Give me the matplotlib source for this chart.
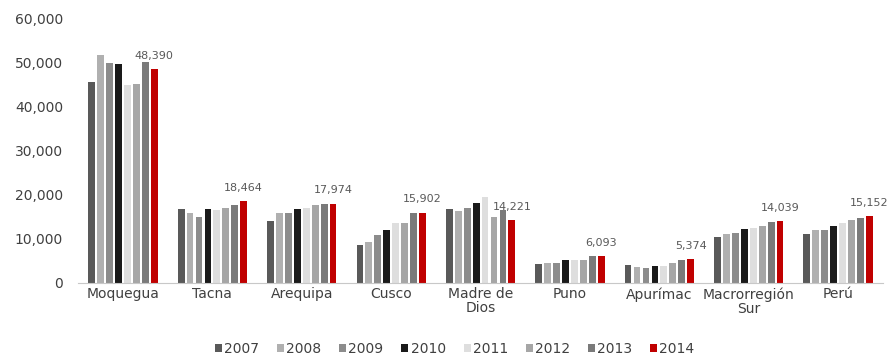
import numpy as np
import matplotlib.pyplot as plt

categories = ["Moquegua", "Tacna", "Arequipa", "Cusco", "Madre de\nDios",
              "Puno", "Apurímac", "Macrorregión\nSur", "Perú"]
years = ["2007", "2008", "2009", "2010", "2011", "2012", "2013", "2014"]

values = {
    "2007": [45500, 16700, 14100, 8600, 16700, 4400, 4100, 10400, 11000],
    "2008": [51700, 15900, 15900, 9300, 16400, 4600, 3700, 11000, 12000],
    "2009": [49800, 15000, 15800, 10800, 17000, 4600, 3400, 11400, 12000],
    "2010": [49500, 16700, 16700, 12000, 18200, 5100, 3800, 12300, 12900],
    "2011": [44800, 16600, 16900, 13600, 19500, 5300, 3800, 12500, 13500],
    "2012": [45100, 17000, 17600, 13600, 15000, 5300, 4600, 12900, 14200],
    "2013": [50100, 17600, 17900, 15800, 16500, 6000, 5100, 13900, 14800],
    "2014": [48390, 18464, 17974, 15902, 14221, 6093, 5374, 14039, 15152],
}
colors = ["#595959", "#b0b0b0", "#8c8c8c", "#1a1a1a",
          "#dedede", "#a6a6a6", "#7a7a7a", "#c00000"]

fig = plt.figure(figsize=(8.9, 3.6), dpi=100)
ax = fig.add_axes([0.088, 0.214, 0.904, 0.736])

x = np.arange(len(categories))
w = 0.1
for i, yr in enumerate(years):
    off = (i - 3.5) * w
    ax.bar(x + off, values[yr], width=w * 0.76, color=colors[i], label=yr)

# data labels on the 2014 bars
for xi, v in zip(x + 3.5 * w, values["2014"]):
    ax.annotate(f"{v:,}", (xi, v), xytext=(0, 6), textcoords="offset points",
                ha="center", va="bottom", fontsize=8, color="#595959")

ax.set_xlim(-0.5, len(categories) - 0.5)
ax.set_ylim(0, 60000)
ax.set_yticks(np.arange(0, 60001, 10000))
ax.set_yticklabels([f"{t:,}" for t in range(0, 60001, 10000)])
ax.set_xticks(x)
ax.set_xticklabels(categories, linespacing=1.0)
ax.tick_params(axis="both", length=0, labelsize=10, colors="#404040")
ax.tick_params(axis="y", pad=11)
ax.tick_params(axis="x", pad=3)
for s in ["top", "right", "left"]:
    ax.spines[s].set_visible(False)
ax.spines["bottom"].set_color("#c8c8c8")

fig.legend(loc="center", bbox_to_anchor=(0.511, 0.031), ncol=8,
           frameon=False, fontsize=10, handlelength=0.5, handleheight=0.5,
           handletextpad=0.15, columnspacing=1.3, labelcolor="#404040")

fig.savefig("out.png", dpi=100)
